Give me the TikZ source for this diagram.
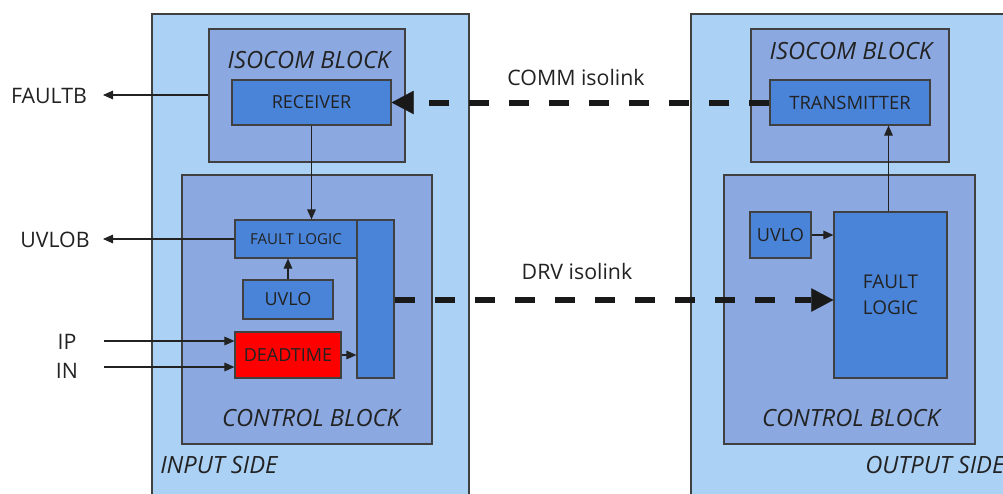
\documentclass[tikz,border=0pt]{standalone}
\usepackage{fontspec}
\setmainfont{Open Sans}
\usetikzlibrary{arrows.meta,fit}
\definecolor{sideblue}{HTML}{ABD1F5}
\definecolor{blockblue}{HTML}{8BA9E0}
\definecolor{unitblue}{HTML}{4A84D8}
\definecolor{edgegray}{HTML}{404040}
\definecolor{txt}{HTML}{222222}
\begin{document}
\begin{tikzpicture}[x=0.75pt,y=-0.75pt,
  side/.style={draw=edgegray, fill=sideblue, line width=0.9pt, inner sep=0pt},
  block/.style={draw=edgegray, fill=blockblue, line width=0.9pt, inner sep=0pt},
  unit/.style={draw=edgegray, fill=unitblue, line width=0.9pt, inner sep=0pt, text=txt,
     font=\fontsize{13.5}{19.5}\selectfont, align=center},
  wh/.style 2 args={minimum width=#1*0.75pt, minimum height=#2*0.75pt},
  ital/.style={font=\fontsize{17.8}{21}\selectfont\itshape, text=txt, inner sep=0pt},
  sig/.style={font=\fontsize{16}{19}\selectfont, text=txt, inner sep=0pt},
  arr/.style={draw=txt, line width=0.8pt, -{Triangle[length=7.5pt,width=6.5pt]}},
  iso/.style={draw=black!90, line width=4.5pt, dash pattern=on 15pt off 15pt,
     -{Triangle[length=16.5pt,width=17.5pt,line width=0.1pt]}}
]
\clip (0,0) rectangle (1003,493);
\fill[white] (0,0) rectangle (1003,493);
% sides
\node[side, fit={(152,14) (469,520)}] (inSide) {};
\node[side, fit={(691,14) (1040,520)}] (outSide) {};
% blocks
\node[block, fit={(209,29) (405,162)}] (isoL) {};
\node[block, fit={(182,175) (432,444)}] (ctlL) {};
\node[block, fit={(751,29) (949,162)}] (isoR) {};
\node[block, fit={(724,175) (975,444)}] (ctlR) {};
% units left
\node[unit, wh={159}{45}] (rx) at (311.5,102.5) {RECEIVER};
\node[unit, wh={37}{158}] (bar) at (375.5,299) {};
\node[unit, wh={122}{38}, font=\fontsize{11.3}{14}\selectfont] (flL) at (296,239) {FAULT LOGIC};
\node[unit, wh={90}{39}] (uvL) at (288,299.5) {UVLO};
\node[unit, wh={106}{46}, fill=red] (dt) at (288,355) {DEADTIME};
% units right
\node[unit, wh={160}{45}, font=\fontsize{13.8}{16}\selectfont] (tx) at (850,102.5) {TRANSMITTER};
\node[unit, wh={61}{46}, font=\fontsize{13.6}{16}\selectfont] (uvR) at (780.5,235) {UVLO};
\node[unit, wh={113}{166}, font=\fontsize{14.2}{19.5}\selectfont] (flR) at (890.5,295) {FAULT\\LOGIC};
% block labels
\node[ital] (isoLlab) at (309,60) {ISOCOM BLOCK};
\node[ital] (isoRlab) at (851,51) {ISOCOM BLOCK};
\node[ital] (ctlLlab) at (311,418) {CONTROL BLOCK};
\node[ital] (ctlRlab) at (851,418) {CONTROL BLOCK};
\node[ital, anchor=west] (inlab) at (160,465) {INPUT SIDE};
\node[ital, anchor=west] (outlab) at (865,465) {OUTPUT SIDE};
% signal labels
\node[sig] (faultb) at (49,96) {FAULTB};
\node[sig] (uvlob) at (55,240) {UVLOB};
\node[sig] (ip) at (67,342) {IP};
\node[sig] (in) at (67,371) {IN};
\node[sig] (comm) at (576,77) {COMM isolink};
\node[sig] (drv) at (577,271) {DRV isolink};
% free ends
\coordinate (fbTip) at (103,95);
\coordinate (uvTip) at (103,239);
\coordinate (ipStart) at (104,341);
\coordinate (inStart) at (104,367);
% thin connectors
\draw[arr] (isoL.west |- fbTip) -- (fbTip);
\draw[arr] (flL.west) -- (uvTip);
\draw[arr] (ipStart) -- (ipStart -| dt.west);
\draw[arr] (inStart) -- (inStart -| dt.west);
\draw[arr] (rx.south) -- (rx.south |- flL.north);
\draw[arr] (uvL.north) -- (uvL.north |- flL.south);
\draw[arr] (dt.east) -- (dt.east -| bar.west);
\draw[arr] (uvR.east) -- (uvR.east -| flR.west);
\draw[arr] ([xshift=-1.5pt]flR.north) -- ([xshift=-1.5pt]flR.north |- tx.south);
% isolinks
\draw[iso] (tx.west) -- (rx.east);
\coordinate (drvStart) at ([yshift=-0.75pt]bar.east);
\draw[iso] (drvStart) -- (drvStart -| flR.west);
\end{tikzpicture}
\end{document}
